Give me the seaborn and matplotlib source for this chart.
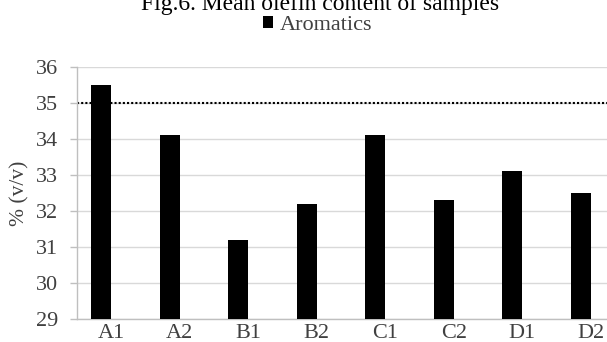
import pandas as pd
import matplotlib
matplotlib.use("Agg")
import matplotlib.pyplot as plt
import seaborn as sns

# values
samples = ["A1", "A2", "B1", "B2", "C1", "C2", "D1", "D2"]
aromatics = [35.5, 34.1, 31.2, 32.2, 34.1, 32.3, 33.1, 32.5]
limit = 35
y_ticks = [29, 30, 31, 32, 33, 34, 35, 36]

sns.set_theme(style="whitegrid")
plt.rcParams["font.family"] = ["Liberation Serif", "DejaVu Serif"]

df = pd.DataFrame({"sample": samples, "value": aromatics, "series": "Aromatics"})

fig = plt.figure(figsize=(6.07, 3.42), dpi=100)
# axes runs past the right edge of the figure, as in the cropped original
ax = fig.add_axes([77 / 607, 23 / 342, 548 / 607, 252 / 342])

# second (empty) series keeps the Excel-style offset of the bars
sns.barplot(data=df, x="sample", y="value", hue="series",
            hue_order=["Aromatics", "(empty)"], dodge=True,
            palette={"Aromatics": "black", "(empty)": "white"},
            width=0.584, linewidth=0, saturation=1, legend=False, ax=ax, zorder=3)

ax.axhline(limit, color="black", linestyle=(0, (1, 1)), lw=1.5, zorder=2)

ax.set_ylim(29, 36)
ax.set_yticks(y_ticks)
ax.set_xlim(-0.5, len(samples) - 0.5)
ax.grid(axis="y", color="#d9d9d9", lw=1.0)
ax.grid(axis="x", visible=False)
ax.set_axisbelow(True)

for side in ["top", "right"]:
    ax.spines[side].set_visible(False)
for side in ["left", "bottom"]:
    ax.spines[side].set_color("#bfbfbf")
    ax.spines[side].set_linewidth(1.0)

ax.tick_params(axis="y", length=5, width=1.0, color="#bfbfbf", pad=8.5,
               labelsize=16, labelcolor="#404040", left=True)
ax.tick_params(axis="x", length=0, pad=3.6, labelsize=16, labelcolor="#404040")

ax.set_xlabel("")
ax.set_ylabel("% (v/v)", fontsize=15.5, color="#404040", va="center", ha="center")
ax.yaxis.set_label_coords(-0.104, 0.5)

fig.text(320 / 607, 1 - 10 / 342, "Fig.6. Mean olefin content of samples",
         ha="center", va="baseline", fontsize=17, color="black")

fig.legend([ax.patches[0]], ["Aromatics"], loc="center",
           bbox_to_anchor=(317.5 / 607, 1 - 25 / 342), frameon=False,
           fontsize=16, labelcolor="#404040", handlelength=0.45,
           handleheight=0.45, handletextpad=0.32, borderpad=0, borderaxespad=0)

fig.savefig("out.png", dpi=100)
plt.close(fig)
